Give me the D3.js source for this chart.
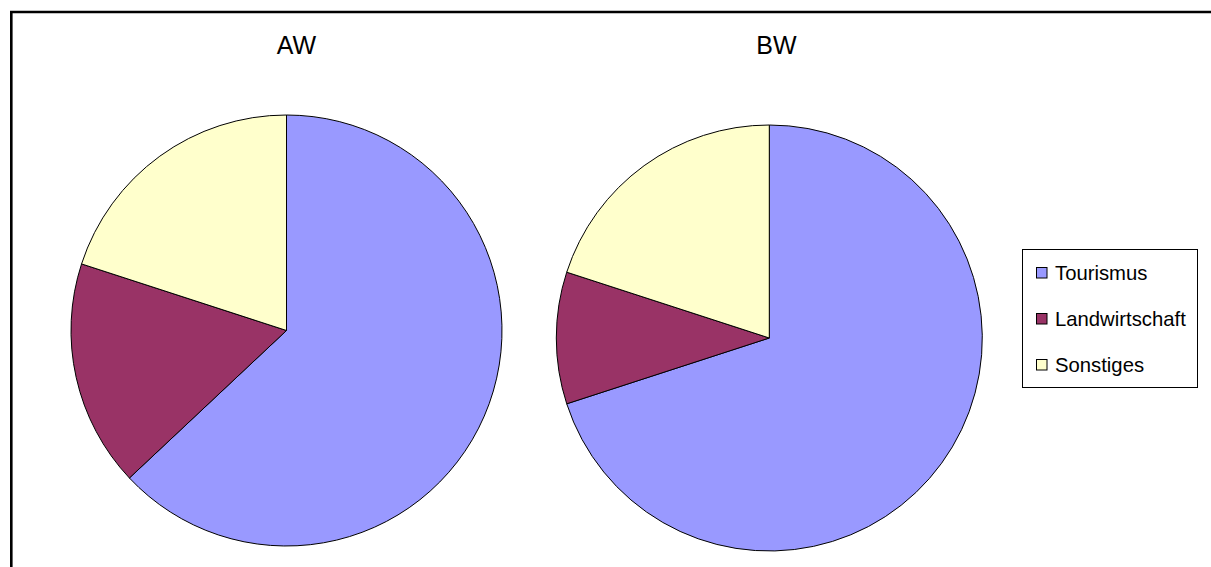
<!DOCTYPE html>
<html><head><meta charset="utf-8">
<script src="https://cdn.jsdelivr.net/npm/d3@7"></script>
<style>body{margin:0;background:#fff;}svg{display:block;font-family:"Liberation Sans",Arial,sans-serif;}</style>
</head><body>
<script>
const categories = ["Tourismus", "Landwirtschaft", "Sonstiges"];
const charts = ["AW", "BW"];
const valuesAW = [63, 17, 20];
const valuesBW = [70, 10, 20];
const colors = ["#9999FF", "#993366", "#FFFFCC"];

const W = 1211, H = 567;
const svg = d3.select("body").append("svg").attr("width", W).attr("height", H);

// frame (top and left visible)
svg.append("path").attr("d", `M11.3,${H} L11.3,12 L${W},12`)
  .attr("fill", "none").attr("stroke", "#000").attr("stroke-width", 2.6);

const color = d3.scaleOrdinal().domain(categories).range(colors);
const pie = d3.pie().sort(null).value(d => d.v);

const layouts = [
  {cx: 286.5, cy: 330.5, r: 215.5, tx: 296.5, ty: 54},
  {cx: 769.3, cy: 338, r: 213, tx: 776.5, ty: 54}
];
const series = [valuesAW, valuesBW];

charts.forEach((name, i) => {
  const L = layouts[i];
  const data = categories.map((c, j) => ({c, v: series[i][j]}));
  const arc = d3.arc().innerRadius(0).outerRadius(L.r);
  const g = svg.append("g").attr("transform", `translate(${L.cx},${L.cy})`);
  g.selectAll("path").data(pie(data)).join("path")
    .attr("d", arc)
    .attr("fill", d => color(d.data.c))
    .attr("stroke", "#000").attr("stroke-width", 1).attr("stroke-linejoin", "round");
  svg.append("text").attr("x", L.tx).attr("y", L.ty)
    .attr("text-anchor", "middle").attr("font-size", 25).attr("fill", "#000").text(name);
});

// legend
const lg = svg.append("g");
lg.append("rect").attr("x", 1022.5).attr("y", 249.5).attr("width", 175).attr("height", 138)
  .attr("fill", "#fff").attr("stroke", "#000").attr("stroke-width", 1);
categories.forEach((c, j) => {
  const y = 273 + j * 46;
  lg.append("rect").attr("x", 1036.5).attr("y", y - 5.5).attr("width", 10.5).attr("height", 10.5)
    .attr("fill", color(c)).attr("stroke", "#000").attr("stroke-width", 1);
  lg.append("text").attr("x", 1055).attr("y", y + 6.8).attr("font-size", 20.3)
    .attr("fill", "#000").text(c);
});
</script>
</body></html>
